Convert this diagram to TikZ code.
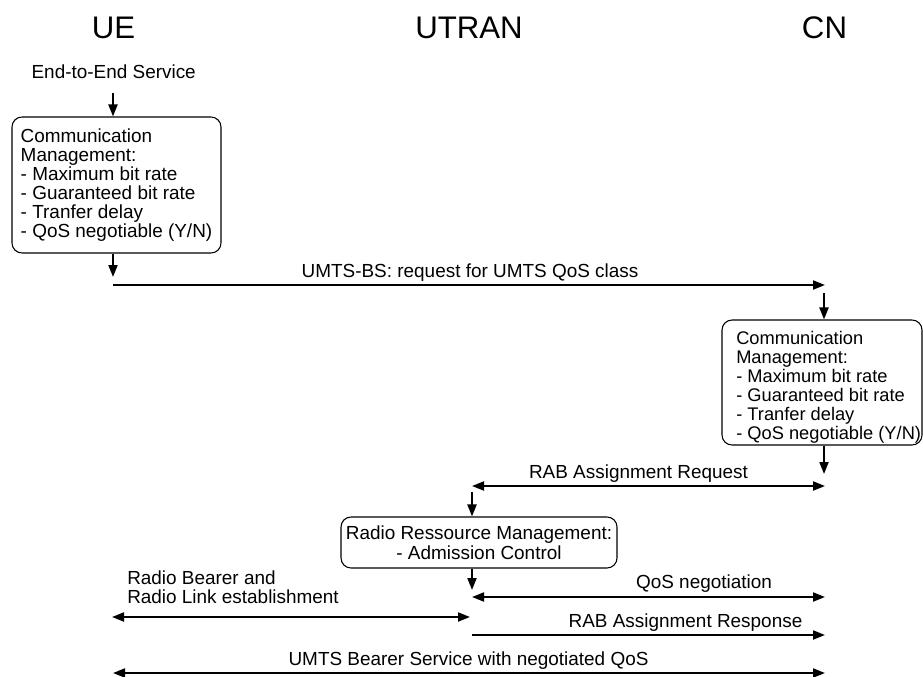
\documentclass[tikz,border=0pt]{standalone}
\usepackage{fontspec}
\setmainfont{Liberation Sans}
\usetikzlibrary{arrows.meta}
\begin{document}
\begin{tikzpicture}[x=0.75pt,y=-0.75pt,
  ttl/.style={font=\fontsize{23.4pt}{28pt}\selectfont, inner sep=0pt, anchor=base},
  lbl/.style={font=\fontsize{14.2pt}{14.25pt}\selectfont, inner sep=0pt, anchor=base},
  multi/.style={font=\fontsize{14.2pt}{14.25pt}\selectfont, inner sep=0pt, align=left},
  box/.style={draw, line width=0.8pt, rounded corners=7.5pt, inner sep=0pt},
  tip/.tip={Triangle[length=9pt,width=6.75pt]},
  flow/.style={line width=1.5pt, -tip},
  both/.style={line width=1.5pt, tip-tip},
]
\useasboundingbox (0,0) rectangle (923,677);

% column headings
\node[ttl] (ue)    at (113.5,39) {UE};
\node[ttl] (utran) at (469,39)   {UTRAN};
\node[ttl] (cn)    at (824.5,39) {CN};

% UE side: end-to-end service request and communication management
\node[lbl] (e2e) at (113.7,78.5) {End-to-End Service};
\node[box, multi, minimum width=156.75pt, minimum height=102pt] (uebox) at (116.5,185)
  {Communication\\Management:\\- Maximum bit rate\\- Guaranteed bit rate\\- Tranfer delay\\- QoS negotiable (Y/N)};
\coordinate (ueA) at (113,93);
\coordinate (ueB) at (113,277);
\draw[flow] (ueA) -- (ueA |- uebox.north);
\draw[flow] (ueB |- uebox.south) -- (ueB);

% bearer service request towards the core network
\coordinate (ueL1) at (113,285);
\coordinate (cnL1) at (825,285);
\draw[flow] (ueL1) -- (cnL1);
\node[lbl] (bsreq) at (470,277) {UMTS-BS: request for UMTS QoS class};

% CN side: communication management
\node[box, minimum width=150pt, minimum height=93.75pt] (cnbox) at (822,382.5) {};
\node[multi, font=\fontsize{13.7pt}{14.25pt}\selectfont, anchor=west] (cntext) at (736,387)
  {Communication\\Management:\\- Maximum bit rate\\- Guaranteed bit rate\\- Tranfer delay\\- QoS negotiable (Y/N)};
\coordinate (cnA) at (824,293);
\coordinate (cnB) at (824,474);
\draw[flow] (cnA) -- (cnA |- cnbox.north);
\draw[flow] (cnB |- cnbox.south) -- (cnB);

% RAB assignment request
\coordinate (utL2) at (472,486);
\coordinate (cnL2) at (825,486);
\draw[both] (utL2) -- (cnL2);
\node[lbl] (rabreq) at (638.5,478) {RAB Assignment Request};

% UTRAN side: radio resource management
\node[box, multi, align=center, font=\fontsize{14.2pt}{15pt}\selectfont,
      minimum width=207pt, minimum height=38.25pt] (rrm) at (479,542.5)
  {Radio Ressource Management:\\- Admission Control};
\coordinate (utA) at (472,492);
\coordinate (utB) at (472,590);
\draw[flow] (utA) -- (utA |- rrm.north);
\draw[flow] (utB |- rrm.south) -- (utB);

% QoS negotiation
\coordinate (utL3) at (472,597);
\coordinate (cnL3) at (825,597);
\draw[both] (utL3) -- (cnL3);
\node[lbl] (qosneg) at (704,588) {QoS negotiation};

% radio bearer and radio link establishment
\coordinate (ueL4) at (112,617);
\coordinate (utL4) at (470,617);
\draw[both] (ueL4) -- (utL4);
\node[multi, anchor=west] (rbrl) at (127,587.6) {Radio Bearer and\\Radio Link establishment};

% RAB assignment response
\coordinate (utL5) at (472,635);
\coordinate (cnL5) at (825,635);
\draw[flow] (utL5) -- (cnL5);
\node[lbl] (rabresp) at (685.5,627) {RAB Assignment Response};

% resulting UMTS bearer service
\coordinate (ueL6) at (113,673);
\coordinate (cnL6) at (825,673);
\draw[both] (ueL6) -- (cnL6);
\node[lbl] (bearer) at (468.5,665) {UMTS Bearer Service with negotiated QoS};
\end{tikzpicture}
\end{document}
